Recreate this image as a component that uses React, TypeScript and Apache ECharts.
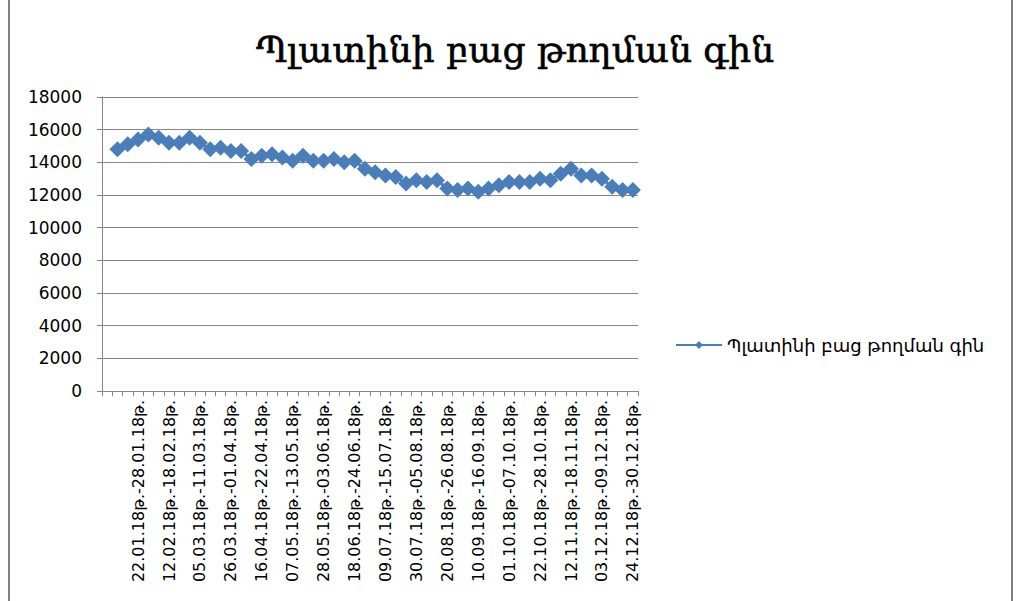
import React, { useEffect, useRef } from "react";
import * as echarts from "echarts";

const TITLE = "Պլատինի բաց թողման գին";
const SERIES_NAME = "Պլատինի բաց թողման գին";

const categories: string[] = [
  "",
  "08.01.18թ.-14.01.18թ.", "15.01.18թ.-21.01.18թ.", "22.01.18թ.-28.01.18թ.",
  "29.01.18թ.-04.02.18թ.", "05.02.18թ.-11.02.18թ.", "12.02.18թ.-18.02.18թ.",
  "19.02.18թ.-25.02.18թ.", "26.02.18թ.-04.03.18թ.", "05.03.18թ.-11.03.18թ.",
  "12.03.18թ.-18.03.18թ.", "19.03.18թ.-25.03.18թ.", "26.03.18թ.-01.04.18թ.",
  "02.04.18թ.-08.04.18թ.", "09.04.18թ.-15.04.18թ.", "16.04.18թ.-22.04.18թ.",
  "23.04.18թ.-29.04.18թ.", "30.04.18թ.-06.05.18թ.", "07.05.18թ.-13.05.18թ.",
  "14.05.18թ.-20.05.18թ.", "21.05.18թ.-27.05.18թ.", "28.05.18թ.-03.06.18թ.",
  "04.06.18թ.-10.06.18թ.", "11.06.18թ.-17.06.18թ.", "18.06.18թ.-24.06.18թ.",
  "25.06.18թ.-01.07.18թ.", "02.07.18թ.-08.07.18թ.", "09.07.18թ.-15.07.18թ.",
  "16.07.18թ.-22.07.18թ.", "23.07.18թ.-29.07.18թ.", "30.07.18թ.-05.08.18թ.",
  "06.08.18թ.-12.08.18թ.", "13.08.18թ.-19.08.18թ.", "20.08.18թ.-26.08.18թ.",
  "27.08.18թ.-02.09.18թ.", "03.09.18թ.-09.09.18թ.", "10.09.18թ.-16.09.18թ.",
  "17.09.18թ.-23.09.18թ.", "24.09.18թ.-30.09.18թ.", "01.10.18թ.-07.10.18թ.",
  "08.10.18թ.-14.10.18թ.", "15.10.18թ.-21.10.18թ.", "22.10.18թ.-28.10.18թ.",
  "29.10.18թ.-04.11.18թ.", "05.11.18թ.-11.11.18թ.", "12.11.18թ.-18.11.18թ.",
  "19.11.18թ.-25.11.18թ.", "26.11.18թ.-02.12.18թ.", "03.12.18թ.-09.12.18թ.",
  "10.12.18թ.-16.12.18թ.", "17.12.18թ.-23.12.18թ.", "24.12.18թ.-30.12.18թ.",
];

const prices: (number | null)[] = [
  null,
  14800, 15100, 15400, 15700, 15500, 15200, 15200, 15500, 15200, 14800,
  14900, 14700, 14700, 14200, 14400, 14500, 14300, 14100, 14400, 14100,
  14100, 14200, 14000, 14100, 13600, 13400, 13200, 13100, 12700, 12900,
  12800, 12900, 12400, 12300, 12400, 12200, 12400, 12600, 12800, 12800,
  12800, 13000, 12900, 13300, 13600, 13200, 13200, 13000, 12500, 12300,
  12300,
];

const Y_MIN = 0;
const Y_MAX = 18000;
const Y_STEP = 2000;

export default function App() {
  const ref = useRef<HTMLDivElement>(null);

  useEffect(() => {
    if (!ref.current) return;
    const chart = echarts.init(ref.current, undefined, { renderer: "svg" });
    const blue = "#4A7EBB";
    const gray = "#868686";
    chart.setOption({
      animation: false,
      backgroundColor: "#ffffff",
      title: {
        text: TITLE,
        left: 510,
        textAlign: "center",
        top: 26,
        textStyle: {
          fontFamily: "'DejaVu Serif', serif",
          fontSize: 36,
          fontWeight: "normal",
          color: "#000",
          textBorderColor: "#000",
          textBorderWidth: 0.6,
        },
      },
      legend: {
        left: 670,
        top: 331,
        orient: "vertical",
        itemWidth: 46,
        itemHeight: 10,
        itemGap: 0,
        textStyle: {
          fontFamily: "'DejaVu Sans', sans-serif",
          fontSize: 18,
          color: "#000",
        },
        data: [{ name: SERIES_NAME }],
      },
      grid: {
        left: 102,
        right: 379,
        top: 97,
        bottom: 210,
        containLabel: false,
      },
      xAxis: {
        type: "category",
        data: categories,
        boundaryGap: true,
        axisLine: { show: true, lineStyle: { color: gray, width: 1 } },
        axisTick: { show: true, interval: 0, length: 5, lineStyle: { color: gray } },
        axisLabel: {
          interval: 2,
          rotate: 90,
          margin: 9,
          fontFamily: "'DejaVu Sans', sans-serif",
          fontSize: 16,
          color: "#000",
        },
        splitLine: { show: false },
      },
      yAxis: {
        type: "value",
        min: Y_MIN,
        max: Y_MAX,
        interval: Y_STEP,
        axisLine: { show: true, lineStyle: { color: gray, width: 1 } },
        axisTick: { show: true, length: 5, lineStyle: { color: gray } },
        axisLabel: {
          margin: 20,
          fontFamily: "'DejaVu Sans', sans-serif",
          fontSize: 17,
          color: "#000",
          formatter: (v: number) => String(v),
        },
        splitLine: { show: true, lineStyle: { color: gray, width: 1 } },
      },
      series: [
        {
          name: SERIES_NAME,
          type: "line",
          data: prices,
          symbol: "diamond",
          symbolSize: 16,
          showSymbol: true,
          showAllSymbol: true,
          connectNulls: false,
          lineStyle: { color: blue, width: 3 },
          itemStyle: { color: blue },
        },
      ],
      graphic: [
        {
          type: "rect",
          shape: { x: 9, y: -10, width: 1003, height: 630 },
          style: { fill: "none", stroke: "#7f7f7f", lineWidth: 2 },
          silent: true,
        },
      ],
    });
    return () => chart.dispose();
  }, []);

  return (
    <div
      ref={ref}
      style={{ position: "fixed", left: 0, top: 0, width: 1017, height: 601 }}
    />
  );
}
